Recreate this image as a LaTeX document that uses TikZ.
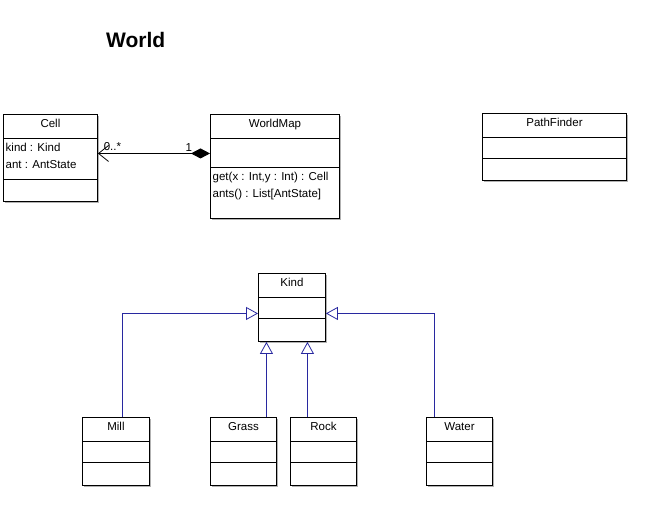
\documentclass[tikz,border=0pt]{standalone}
\usepackage{fontspec}
\setmainfont{Liberation Sans}
\usetikzlibrary{arrows.meta,shadows,positioning}
\definecolor{genblue}{RGB}{40,40,160}
\tikzset{
  cls/.style={draw, line width=0.9pt, fill=white, anchor=north west, inner sep=0pt,
    drop shadow={shadow xshift=1.2pt, shadow yshift=-1.2pt, fill=black!30, opacity=1}},
  clsname/.style={anchor=base, inner sep=0pt, font=\fontsize{11.5}{13}\selectfont},
  members/.style={anchor=north west, inner xsep=2.5pt, inner ysep=4.6pt, align=left,
    font=\fontsize{11.5}{17}\selectfont},
  gen/.style={draw=genblue, line width=0.8pt, -{Triangle[open, length=12pt, width=13pt, fill=white]}},
  comp/.style={line width=0.8pt, {Diamond[length=19pt, width=10pt]}-{Straight Barb[length=10pt, width=16pt, line width=0.8pt]}},
  mult/.style={inner sep=2pt, font=\fontsize{11.5}{13}\selectfont}
}
% name, top left, width, heights of the three parts, title, attributes, operations
\newcommand{\umlclass}[9]{%
  \node[cls, minimum width=#3pt, minimum height=#4pt+#5pt+#6pt] (#1) at (#2) {};
  \node[clsname] (#1-name) at ([yshift=-13.5pt]#1.north) {#7};
  \draw[line width=0.9pt] (#1.north west) ++(0,#4) coordinate (#1-a) -- ++(#3,0);
  \draw[line width=0.9pt] (#1-a) ++(0,#5) coordinate (#1-b) -- ++(#3,0);
  \node[members] (#1-attr) at (#1-a) {#8};
  \node[members] (#1-ops) at (#1-b) {#9};
}
\begin{document}
\begin{tikzpicture}[x=1pt, y=-1pt]
  \useasboundingbox[fill=white] (0,0) rectangle (660,506);
  \node[anchor=base west, inner sep=0pt, font=\fontsize{21}{24}\selectfont\bfseries] (title) at (106,47) {World};

  \umlclass{cell}{3,114}{94}{24}{41}{22}{Cell}{kind : Kind\\ant : AntState}{}
  \umlclass{worldmap}{210,114}{129}{24}{29}{51}{WorldMap}{}{get(x : Int,y : Int) : Cell\\ants() : List[AntState]}
  \umlclass{pathfinder}{482,113}{144}{24}{21}{22}{PathFinder}{}{}

  \umlclass{kind}{258,273}{67}{24}{21}{23}{Kind}{}{}
  \umlclass{mill}{82,417}{67}{24}{21}{23}{Mill}{}{}
  \umlclass{grass}{210,417}{66}{24}{21}{23}{Grass}{}{}
  \umlclass{rock}{290,417}{66}{24}{21}{23}{Rock}{}{}
  \umlclass{water}{426,417}{66}{24}{21}{23}{Water}{}{}

  % composition
  \draw[comp] ([yshift=13pt]worldmap.west) to node[mult, pos=0.19, above] {1}
    node[mult, pos=0.87, above] {0..*} ([yshift=13pt]worldmap.west -| cell.east);

  % generalisations
  \draw[gen] ([xshift=6.5pt]mill.north) |- ([yshift=-6pt]kind.west);
  \draw[gen] ([xshift=23pt]grass.north) -- ([xshift=23pt]grass.north |- kind.south);
  \draw[gen] ([xshift=-16pt]rock.north) -- ([xshift=-16pt]rock.north |- kind.south);
  \draw[gen] ([xshift=-25pt]water.north) |- ([yshift=-6pt]kind.east);
\end{tikzpicture}
\end{document}
